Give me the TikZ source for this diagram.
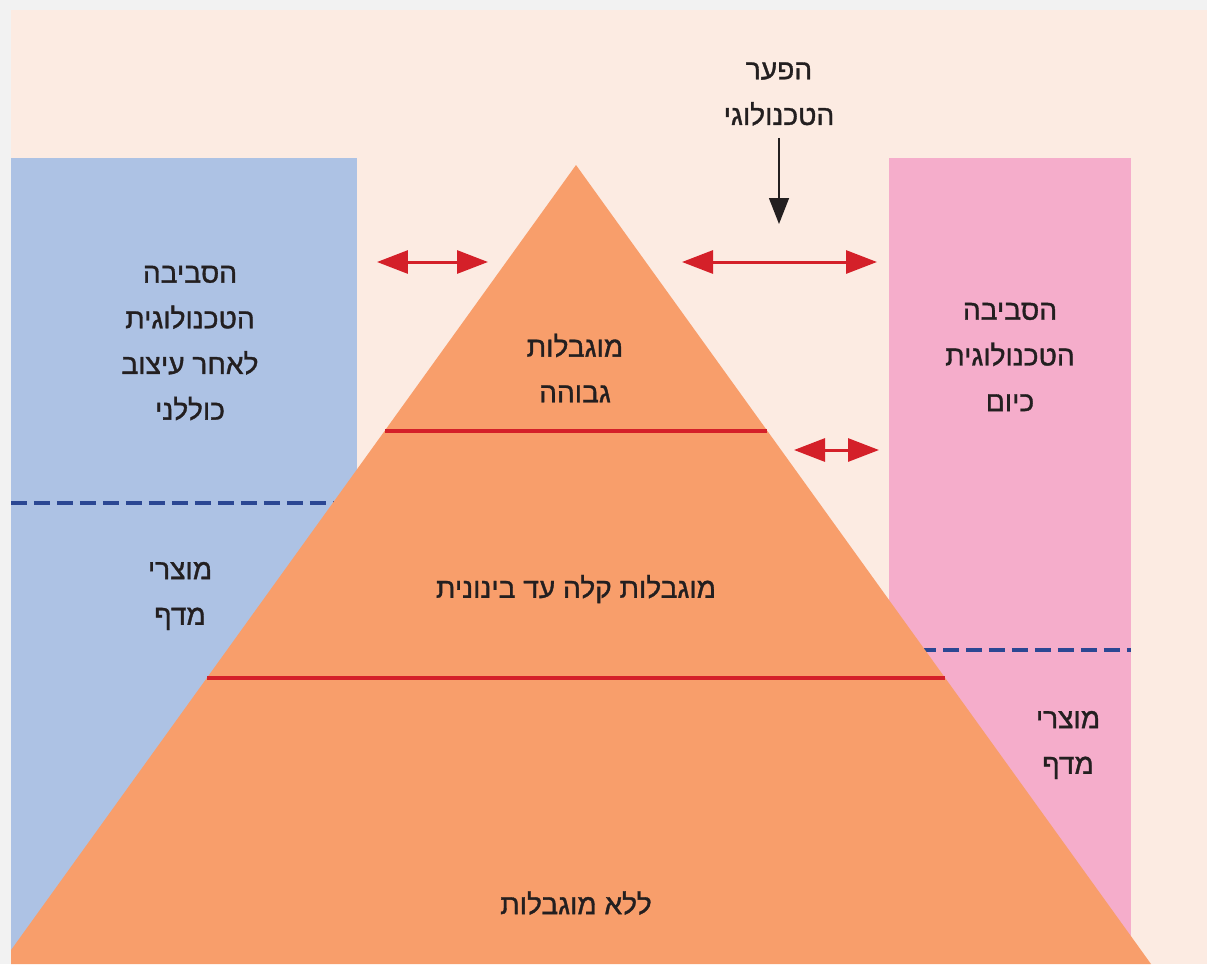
\documentclass[tikz,border=0pt]{standalone}
\usepackage{fontspec}
\newfontfamily\hebfont[Script=Hebrew,FakeBold=1.2]{Liberation Sans}
\TeXXeTstate=1
\usetikzlibrary{arrows.meta}
\definecolor{bggray}{HTML}{F2F2F2}
\definecolor{peach}{HTML}{FCEBE2}
\definecolor{boxblue}{HTML}{ADC2E4}
\definecolor{boxpink}{HTML}{F5ADCB}
\definecolor{pyrorange}{HTML}{F89E6B}
\definecolor{gapred}{HTML}{D42029}
\definecolor{dashblue}{HTML}{2B4793}
\definecolor{ink}{HTML}{231F20}
\newcommand{\heb}[1]{\beginR #1\endR}

\begin{document}
\begin{tikzpicture}[x=0.02cm, y=-0.02cm,
    hebtext/.style={font=\hebfont\fontsize{16}{26}\selectfont, align=center, text=ink},
    gaparrow/.style={gapred, line width=1.7pt, {Triangle[length=0.62cm,width=0.46cm]}-{Triangle[length=0.62cm,width=0.46cm]}},
    pointer/.style={ink, line width=0.8pt, -{Triangle[length=0.52cm,width=0.4cm]}},
    layerline/.style={gapred, line width=2pt},
    shelfline/.style={dashblue, line width=2.2pt, dash pattern=on 0.32cm off 0.14cm}]
        \useasboundingbox (0,0) rectangle (1207,964);
        \fill[bggray] (0,0) rectangle (1207,964);
        \fill[peach] (11,10) rectangle (1207,964);

        % the two environments
        \fill[boxblue] (11,158) rectangle (357,964);
        \fill[boxpink] (889,158) rectangle (1131,964);
        \draw[shelfline] (11,503) -- (340,503);
        \draw[shelfline] (920,650) -- (1131,650);

        % pyramid
        \begin{scope}
            \clip (11,10) rectangle (1207,964);
            \fill[pyrorange] (576,165) coordinate (apex) -- (1151,964) -- (1,964) -- cycle;
        \end{scope}
        \draw[layerline] (385,431) coordinate (topL) -- (767,431) coordinate (topR);
        \draw[layerline] (207,678) coordinate (midL) -- (945,678) coordinate (midR);

        % gaps
        \coordinate (leftA) at (377,262);
        \coordinate (leftB) at (488,262);
        \coordinate (rightA) at (682,262);
        \coordinate (rightB) at (877,262);
        \coordinate (lowA) at (794,450);
        \coordinate (lowB) at (879,450);
        \draw[gaparrow] (leftA) -- (leftB);
        \draw[gaparrow] (rightA) -- (rightB);
        \draw[gaparrow] (lowA) -- (lowB);

        \node[hebtext] (gaplabel) at (779,94) {\heb{הפער}\\\heb{הטכנולוגי}};
        \coordinate (gaptip) at (779,224);
        \draw[pointer, shorten <=0.12cm] (gaplabel.south) -- (gaptip);

        % texts
        \node[hebtext] (future) at (190,343) {\heb{הסביבה}\\\heb{הטכנולוגית}\\\heb{לאחר עיצוב}\\\heb{כוללני}};
        \node[hebtext] (today) at (1010,357) {\heb{הסביבה}\\\heb{הטכנולוגית}\\\heb{כיום}};
        \node[hebtext] (shelfL) at (180,596) {\heb{מוצרי}\\\heb{מדף}};
        \node[hebtext] (shelfR) at (1068,745) {\heb{מוצרי}\\\heb{מדף}};
        \node[hebtext] (high) at (575,368) {\heb{מוגבלות}\\\heb{גבוהה}};
        \node[hebtext] (medium) at (576,589) {\heb{מוגבלות קלה עד בינונית}};
        \node[hebtext] (none) at (576,903) {\heb{ללא מוגבלות}};
\end{tikzpicture}
\end{document}
